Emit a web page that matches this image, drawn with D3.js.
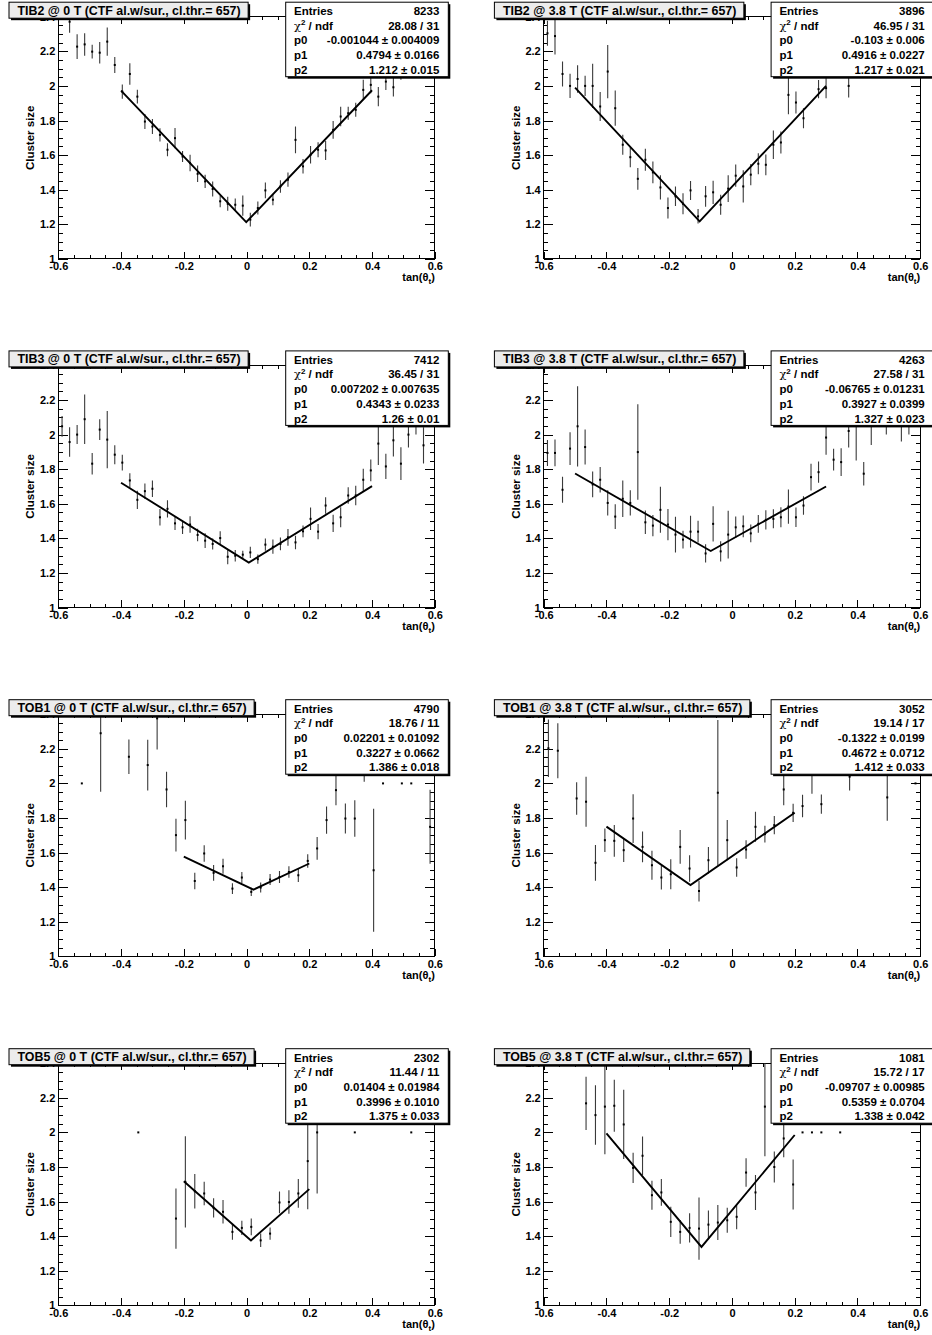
<!DOCTYPE html>
<html><head><meta charset="utf-8">
<script src="https://cdn.jsdelivr.net/npm/d3@7"></script>
<style>
body{margin:0;background:#fff;}
text{font-family:"Liberation Sans",Arial,Helvetica,sans-serif;font-weight:bold;fill:#000;}
</style></head>
<body><svg id="c" width="932" height="1335"></svg>
<script>
// ---- DATA: [tan(theta_t), cluster size, error] ----
const tib2_0T = [[-0.564,2.371,0.064],[-0.540,2.227,0.072],[-0.516,2.240,0.065],[-0.492,2.198,0.040],[-0.468,2.192,0.062],[-0.444,2.256,0.082],[-0.420,2.121,0.046],[-0.396,1.967,0.041],[-0.372,2.069,0.062],[-0.348,1.938,0.040],[-0.324,1.794,0.043],[-0.300,1.765,0.043],[-0.276,1.717,0.038],[-0.252,1.631,0.037],[-0.228,1.698,0.058],[-0.204,1.592,0.032],[-0.180,1.554,0.048],[-0.156,1.492,0.048],[-0.132,1.448,0.038],[-0.108,1.404,0.043],[-0.084,1.333,0.034],[-0.060,1.319,0.040],[-0.036,1.313,0.036],[-0.012,1.308,0.058],[0.012,1.227,0.040],[0.036,1.294,0.038],[0.060,1.396,0.045],[0.084,1.342,0.032],[0.108,1.419,0.036],[0.132,1.458,0.041],[0.156,1.688,0.077],[0.180,1.535,0.042],[0.204,1.602,0.050],[0.228,1.631,0.043],[0.252,1.627,0.055],[0.276,1.746,0.051],[0.300,1.823,0.056],[0.324,1.842,0.037],[0.348,1.862,0.040],[0.372,1.977,0.058],[0.396,2.006,0.048],[0.420,1.938,0.056],[0.444,2.025,0.048],[0.468,1.992,0.053],[0.492,2.090,0.055]];
const tib2_38T = [[-0.588,2.304,0.072],[-0.564,2.288,0.106],[-0.540,2.069,0.072],[-0.516,2.000,0.070],[-0.492,2.040,0.079],[-0.468,2.000,0.058],[-0.444,2.000,0.128],[-0.420,1.881,0.084],[-0.396,2.083,0.154],[-0.372,1.871,0.102],[-0.348,1.660,0.058],[-0.324,1.588,0.058],[-0.300,1.463,0.063],[-0.276,1.573,0.064],[-0.252,1.500,0.063],[-0.228,1.413,0.070],[-0.204,1.294,0.061],[-0.180,1.362,0.056],[-0.156,1.319,0.061],[-0.132,1.396,0.055],[-0.108,1.246,0.042],[-0.084,1.362,0.060],[-0.060,1.385,0.067],[-0.036,1.313,0.058],[-0.012,1.406,0.077],[0.012,1.481,0.064],[0.036,1.419,0.093],[0.060,1.487,0.061],[0.084,1.550,0.061],[0.108,1.544,0.060],[0.132,1.660,0.082],[0.156,1.673,0.064],[0.180,1.948,0.112],[0.204,1.904,0.064],[0.228,1.813,0.058],[0.276,1.981,0.053],[0.300,1.987,0.058],[0.372,2.000,0.067]];
const tib3_0T = [[-0.588,2.048,0.060],[-0.564,1.957,0.085],[-0.540,2.000,0.055],[-0.516,2.089,0.143],[-0.492,1.832,0.062],[-0.468,2.029,0.060],[-0.444,1.971,0.166],[-0.420,1.884,0.055],[-0.396,1.838,0.045],[-0.372,1.735,0.042],[-0.348,1.623,0.053],[-0.324,1.673,0.044],[-0.300,1.687,0.048],[-0.276,1.522,0.048],[-0.252,1.571,0.050],[-0.228,1.487,0.039],[-0.204,1.464,0.039],[-0.180,1.480,0.048],[-0.156,1.420,0.036],[-0.132,1.387,0.043],[-0.108,1.368,0.032],[-0.084,1.402,0.039],[-0.060,1.294,0.044],[-0.036,1.300,0.033],[-0.012,1.306,0.022],[0.012,1.319,0.033],[0.036,1.280,0.027],[0.060,1.364,0.036],[0.084,1.352,0.041],[0.108,1.368,0.037],[0.132,1.406,0.048],[0.156,1.377,0.039],[0.180,1.441,0.034],[0.204,1.513,0.065],[0.228,1.439,0.044],[0.252,1.590,0.048],[0.276,1.487,0.050],[0.300,1.522,0.058],[0.324,1.648,0.048],[0.348,1.648,0.056],[0.372,1.739,0.063],[0.396,1.793,0.063],[0.420,1.948,0.123],[0.444,1.816,0.073],[0.468,1.967,0.094],[0.492,1.832,0.095],[0.516,2.000,0.075],[0.540,2.050,0.050],[0.564,1.938,0.105]];
const tib3_38T = [[-0.588,1.894,0.075],[-0.564,1.894,0.077],[-0.540,1.681,0.075],[-0.516,1.919,0.094],[-0.492,2.048,0.232],[-0.468,1.928,0.101],[-0.444,1.712,0.074],[-0.420,1.739,0.073],[-0.396,1.605,0.073],[-0.372,1.526,0.071],[-0.348,1.629,0.106],[-0.324,1.605,0.073],[-0.300,1.899,0.276],[-0.276,1.493,0.068],[-0.252,1.474,0.061],[-0.228,1.565,0.133],[-0.204,1.480,0.090],[-0.180,1.422,0.103],[-0.156,1.393,0.051],[-0.132,1.439,0.092],[-0.108,1.439,0.063],[-0.084,1.313,0.053],[-0.060,1.484,0.102],[-0.036,1.325,0.058],[-0.012,1.422,0.138],[0.012,1.464,0.062],[0.036,1.470,0.063],[0.060,1.429,0.051],[0.084,1.484,0.051],[0.108,1.507,0.056],[0.132,1.513,0.055],[0.156,1.522,0.058],[0.180,1.584,0.099],[0.204,1.522,0.056],[0.228,1.590,0.053],[0.252,1.754,0.077],[0.276,1.783,0.061],[0.300,1.983,0.100],[0.324,1.855,0.063],[0.348,1.841,0.080],[0.372,2.021,0.096],[0.396,2.060,0.210],[0.420,1.774,0.068],[0.444,2.100,0.160],[0.492,2.100,0.100],[0.540,2.120,0.160],[0.564,2.100,0.100]];
const tob1_0T = [[-0.525,2.000,0],[-0.465,2.290,0.338],[-0.375,2.154,0.100],[-0.315,2.106,0.147],[-0.285,2.376,0.180],[-0.255,1.965,0.103],[-0.225,1.701,0.094],[-0.195,1.788,0.112],[-0.165,1.436,0.048],[-0.135,1.595,0.048],[-0.105,1.483,0.046],[-0.075,1.521,0.043],[-0.045,1.392,0.031],[-0.015,1.456,0.032],[0.015,1.373,0.024],[0.045,1.398,0.029],[0.075,1.444,0.032],[0.105,1.459,0.035],[0.135,1.488,0.033],[0.165,1.469,0.039],[0.195,1.552,0.039],[0.225,1.624,0.066],[0.255,1.788,0.079],[0.285,1.961,0.087],[0.315,1.797,0.087],[0.345,1.797,0.106],[0.375,2.100,0.090],[0.405,1.498,0.355],[0.435,2.000,0],[0.495,2.000,0],[0.525,2.000,0],[0.585,1.749,0.214]];
const tob1_38T = [[-0.585,2.203,0.166],[-0.555,2.189,0.159],[-0.495,1.913,0.094],[-0.465,1.894,0.145],[-0.435,1.541,0.103],[-0.405,1.672,0.068],[-0.375,1.668,0.092],[-0.345,1.614,0.068],[-0.315,1.797,0.141],[-0.285,1.633,0.089],[-0.255,1.527,0.084],[-0.225,1.456,0.069],[-0.195,1.475,0.087],[-0.165,1.633,0.097],[-0.135,1.508,0.077],[-0.105,1.378,0.060],[-0.075,1.556,0.077],[-0.045,1.946,0.420],[-0.015,1.672,0.116],[0.015,1.514,0.053],[0.045,1.618,0.053],[0.075,1.749,0.087],[0.105,1.707,0.048],[0.135,1.759,0.053],[0.165,1.965,0.092],[0.195,1.830,0.053],[0.225,1.869,0.065],[0.255,2.050,0.110],[0.285,1.880,0.056],[0.375,2.039,0.080],[0.495,1.919,0.135],[0.585,2.000,0]];
const tob5_0T = [[-0.345,2.000,0],[-0.225,1.502,0.174],[-0.195,1.714,0.264],[-0.165,1.660,0.100],[-0.135,1.647,0.068],[-0.105,1.564,0.056],[-0.075,1.541,0.068],[-0.045,1.425,0.045],[-0.015,1.448,0.041],[0.015,1.454,0.048],[0.045,1.376,0.039],[0.075,1.415,0.036],[0.105,1.595,0.063],[0.135,1.598,0.068],[0.165,1.647,0.083],[0.195,1.834,0.278],[0.225,2.000,0.353],[0.345,2.000,0],[0.525,2.000,0]];
const tob5_38T = [[-0.465,2.168,0.154],[-0.435,2.100,0.172],[-0.405,2.149,0.275],[-0.375,2.154,0.150],[-0.345,2.046,0.200],[-0.315,1.795,0.087],[-0.285,1.865,0.111],[-0.255,1.637,0.084],[-0.225,1.653,0.077],[-0.195,1.483,0.087],[-0.165,1.425,0.068],[-0.135,1.448,0.085],[-0.105,1.444,0.180],[-0.075,1.467,0.082],[-0.045,1.479,0.101],[-0.015,1.492,0.072],[0.015,1.512,0.072],[0.045,1.768,0.082],[0.075,1.653,0.101],[0.105,2.149,0.287],[0.135,1.800,0.090],[0.165,1.965,0.109],[0.195,1.699,0.145],[0.225,2.000,0],[0.255,2.000,0],[0.285,2.000,0],[0.345,2.000,0]];

// fitted V-lines: [start, minimum, end]
const fit_tib2_0T = [[-0.4,1.973],[-0.001044,1.212],[0.4,1.975]];
const fit_tib2_38T = [[-0.5,1.99],[-0.103,1.217],[0.3,2.0]];
const fit_tib3_0T = [[-0.4,1.722],[0.007202,1.26],[0.4,1.702]];
const fit_tib3_38T = [[-0.5,1.775],[-0.06765,1.327],[0.3,1.70]];
const fit_tob1_0T = [[-0.2,1.577],[0.02201,1.386],[0.2,1.537]];
const fit_tob1_38T = [[-0.4,1.750],[-0.1322,1.412],[0.2,1.830]];
const fit_tob5_0T = [[-0.2,1.718],[0.01404,1.375],[0.2,1.672]];
const fit_tob5_38T = [[-0.4,1.994],[-0.09707,1.338],[0.2,1.985]];

const titles = ["TIB2 @ 0 T (CTF al.w/sur., cl.thr.= 657)","TIB2 @ 3.8 T (CTF al.w/sur., cl.thr.= 657)",
 "TIB3 @ 0 T (CTF al.w/sur., cl.thr.= 657)","TIB3 @ 3.8 T (CTF al.w/sur., cl.thr.= 657)",
 "TOB1 @ 0 T (CTF al.w/sur., cl.thr.= 657)","TOB1 @ 3.8 T (CTF al.w/sur., cl.thr.= 657)",
 "TOB5 @ 0 T (CTF al.w/sur., cl.thr.= 657)","TOB5 @ 3.8 T (CTF al.w/sur., cl.thr.= 657)"];
const statLabels = ["Entries","chi2","p0","p1","p2"];
const stats_tib2_0T = ["8233","28.08 / 31","-0.001044 \u00b1 0.004009","0.4794 \u00b1 0.0166","1.212 \u00b1 0.015"];
const stats_tib2_38T = ["3896","46.95 / 31","-0.103 \u00b1 0.006","0.4916 \u00b1 0.0227","1.217 \u00b1 0.021"];
const stats_tib3_0T = ["7412","36.45 / 31","0.007202 \u00b1 0.007635","0.4343 \u00b1 0.0233","1.26 \u00b1 0.01"];
const stats_tib3_38T = ["4263","27.58 / 31","-0.06765 \u00b1 0.01231","0.3927 \u00b1 0.0399","1.327 \u00b1 0.023"];
const stats_tob1_0T = ["4790","18.76 / 11","0.02201 \u00b1 0.01092","0.3227 \u00b1 0.0662","1.386 \u00b1 0.018"];
const stats_tob1_38T = ["3052","19.14 / 17","-0.1322 \u00b1 0.0199","0.4672 \u00b1 0.0712","1.412 \u00b1 0.033"];
const stats_tob5_0T = ["2302","11.44 / 11","0.01404 \u00b1 0.01984","0.3996 \u00b1 0.1010","1.375 \u00b1 0.033"];
const stats_tob5_38T = ["1081","15.72 / 17","-0.09707 \u00b1 0.00985","0.5359 \u00b1 0.0704","1.338 \u00b1 0.042"];
const xDomain = [-0.6, 0.6];
const yDomain = [1, 2.4];
const xMajorTicks = [-0.6,-0.4,-0.2,0,0.2,0.4,0.6];
const yMajorTicks = [1,1.2,1.4,1.6,1.8,2,2.2,2.4];
const xTitle = "tan(\u03b8";
const yTitle = "Cluster size";

// ---- LAYOUT ----
const panels = [
 {data:tib2_0T, fit:fit_tib2_0T, stats:stats_tib2_0T},
 {data:tib2_38T, fit:fit_tib2_38T, stats:stats_tib2_38T},
 {data:tib3_0T, fit:fit_tib3_0T, stats:stats_tib3_0T},
 {data:tib3_38T, fit:fit_tib3_38T, stats:stats_tib3_38T},
 {data:tob1_0T, fit:fit_tob1_0T, stats:stats_tob1_0T},
 {data:tob1_38T, fit:fit_tob1_38T, stats:stats_tob1_38T},
 {data:tob5_0T, fit:fit_tob5_0T, stats:stats_tob5_0T},
 {data:tob5_38T, fit:fit_tob5_38T, stats:stats_tob5_38T}];
const colX = [58.3, 543.7], frameW = 376.5;
const rowTop = [16.7, 365.4, 714.2, 1063.2], frameH = 242.2;

const svg = d3.select("#c");
svg.append("rect").attr("width",932).attr("height",1335).attr("fill","#fff");
const fmt = d => Math.abs(d) < 1e-9 ? "0" : String(+d.toFixed(1));

panels.forEach((p, k) => {
  const x0 = colX[k % 2], x1 = x0 + frameW;
  const ft = rowTop[Math.floor(k / 2)], fb = ft + frameH;
  const x = d3.scaleLinear().domain(xDomain).range([x0, x1]);
  const y = d3.scaleLinear().domain(yDomain).range([fb, ft]);
  const g = svg.append("g");
  const xMinor = x.ticks(24), yMinor = y.ticks(28);

  function ax(gen, tx, ty, vals, size, labels, pad) {
    const a = g.append("g").attr("transform", `translate(${tx},${ty})`)
      .call(gen.tickValues(vals).tickSizeInner(size).tickSizeOuter(0)
        .tickPadding(pad || 0).tickFormat(labels ? fmt : ""));
    a.select(".domain").remove();
    a.selectAll("line").attr("stroke","#000").attr("shape-rendering","crispEdges");
    a.selectAll("text").attr("font-size", 11).attr("font-family", null);
    return a;
  }
  ax(d3.axisBottom(x), 0, fb, xMinor, -3.6, false);
  ax(d3.axisBottom(x), 0, fb, xMajorTicks, -7.3, true, 3.6);
  ax(d3.axisTop(x), 0, ft, xMinor, -3.6, false);
  ax(d3.axisTop(x), 0, ft, xMajorTicks, -7.3, false);
  ax(d3.axisLeft(y), x0, 0, yMinor, -4.7, false);
  ax(d3.axisLeft(y), x0, 0, yMajorTicks, -9.4, true, 3);
  ax(d3.axisRight(y), x1, 0, yMinor, -4.7, false);
  ax(d3.axisRight(y), x1, 0, yMajorTicks, -9.4, false);

  g.append("rect").attr("x", x0).attr("y", ft).attr("width", frameW).attr("height", frameH)
    .attr("fill","none").attr("stroke","#000").attr("shape-rendering","crispEdges");

  // axis titles
  const xt = g.append("text").attr("x", x1).attr("y", fb + 22.5).attr("text-anchor","end").attr("font-size", 11);
  xt.append("tspan").text(xTitle);
  xt.append("tspan").attr("font-size", 8).attr("dy", 3).text("t");
  xt.append("tspan").attr("dy", -3).text(")");
  g.append("text").attr("transform", `translate(${x0 - 24},${(ft + fb) / 2}) rotate(-90)`)
    .attr("text-anchor","middle").attr("font-size", 11.5).text(yTitle);

  // data
  const cid = "clip" + k;
  svg.append("clipPath").attr("id", cid).append("rect").attr("x", x0).attr("y", ft).attr("width", frameW).attr("height", frameH);
  const dg = g.append("g").attr("clip-path", `url(#${cid})`);
  dg.selectAll("line.err").data(p.data.filter(d => d[2] > 0)).join("line")
    .attr("x1", d => x(d[0])).attr("x2", d => x(d[0]))
    .attr("y1", d => y(d[1] - d[2])).attr("y2", d => y(d[1] + d[2]))
    .attr("stroke","#3a3a3a").attr("stroke-width", 1.1);
  dg.selectAll("rect.pt").data(p.data).join("rect")
    .attr("x", d => x(d[0]) - 1).attr("y", d => y(d[1]) - 1).attr("width", 2).attr("height", 2).attr("fill","#000");
  dg.append("path").datum(p.fit)
    .attr("d", d3.line().x(d => x(d[0])).y(d => y(d[1])))
    .attr("fill","none").attr("stroke","#000").attr("stroke-width", 1.9).attr("stroke-linejoin","miter");

  // title box
  const tbx = x0 - 49.3, tby = ft - 14.5, tbh = 16;
  const tg = g.append("g");
  const shadow = tg.append("rect"), box = tg.append("rect");
  const tt = tg.append("text").attr("x", tbx + 8.5).attr("y", tby + 12.5).attr("font-size", 12.4).text(titles[k]);
  const tw = tt.node().getComputedTextLength() + 16;
  shadow.attr("x", tbx + 2).attr("y", tby + 2).attr("width", tw).attr("height", tbh).attr("fill","#000");
  box.attr("x", tbx).attr("y", tby).attr("width", tw).attr("height", tbh).attr("fill","#ececec").attr("stroke","#000").attr("stroke-width",1);

  // stats box
  const sbx = x0 + 227.4, sby = ft - 14.5, sbw = 162.6, sbh = 74.5;
  g.append("rect").attr("x", sbx + 2).attr("y", sby + 2).attr("width", sbw).attr("height", sbh).attr("fill","#000");
  g.append("rect").attr("x", sbx).attr("y", sby).attr("width", sbw).attr("height", sbh).attr("fill","#fff").attr("stroke","#000");
  statLabels.forEach((lab, i) => {
    const by = sby + 12.8 + 14.7 * i;
    const lt = g.append("text").attr("x", sbx + 8.3).attr("y", by).attr("font-size", 11.5);
    if (lab === "chi2") {
      lt.append("tspan").attr("font-family","'DejaVu Serif',serif").attr("font-weight","normal").text("\u03c7");
      lt.append("tspan").attr("font-size", 8).attr("dy", -4.5).text("2");
      lt.append("tspan").attr("dy", 4.5).text(" / ndf");
    } else lt.text(lab);
    g.append("text").attr("x", sbx + 153.6).attr("y", by).attr("text-anchor","end").attr("font-size", 11.5).text(p.stats[i]);
  });
});
</script></body></html>
